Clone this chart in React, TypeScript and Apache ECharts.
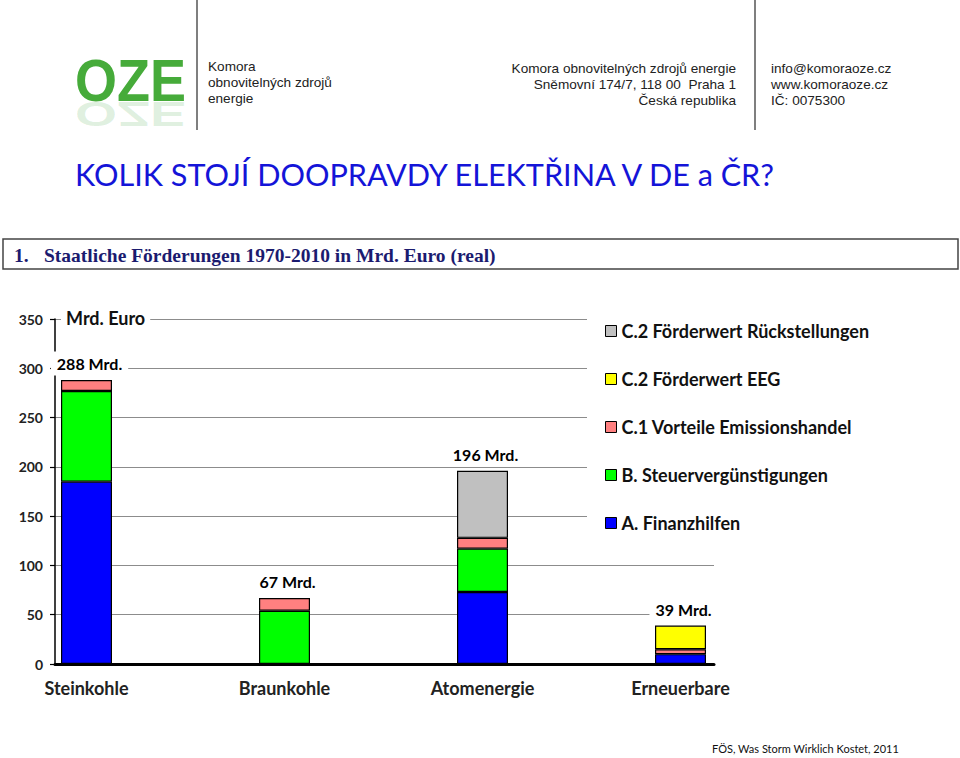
import React, { useEffect, useRef } from 'react';
import * as echarts from 'echarts';

const categories = ['Steinkohle', 'Braunkohle', 'Atomenergie', 'Erneuerbare'];
const finanzhilfen = [185, 0, 73, 10];
const steuerverguenstigungen = [92, 54, 44, 0];
const emissionshandel = [11, 13, 11, 5];
const foerderwertEEG = [0, 0, 0, 24];
const rueckstellungen = [0, 0, 68, 0];
const yTicks = { min: 0, max: 350, interval: 50 };

const seriesDefs = [
  { name: 'A. Finanzhilfen', values: finanzhilfen, color: '#0000FF' },
  { name: 'B. Steuervergünstigungen', values: steuerverguenstigungen, color: '#00FF00' },
  { name: 'C.1 Vorteile Emissionshandel', values: emissionshandel, color: '#FF8080' },
  { name: 'C.2 Förderwert EEG', values: foerderwertEEG, color: '#FFFF00' },
  { name: 'C.2 Förderwert Rückstellungen', values: rueckstellungen, color: '#C0C0C0' },
];
const totals = categories.map((_, i) => seriesDefs.reduce((s, d) => s + d.values[i], 0));

const FONT = 'Lato, "Open Sans", sans-serif';
const SANS = '"Liberation Sans", Arial, sans-serif';

function buildOption(): any {
  const series: any[] = seriesDefs.map((s) => ({
    type: 'bar',
    name: s.name,
    stack: 'total',
    xAxisIndex: 0,
    yAxisIndex: 0,
    barWidth: 51,
    data: s.values.map((v) => (v > 0 ? v : '-')),
    itemStyle: { color: s.color, borderColor: '#000', borderWidth: 1.2 },
    emphasis: { disabled: true },
  }));
  series.push({
    type: 'scatter',
    name: 'totals',
    xAxisIndex: 0,
    yAxisIndex: 0,
    data: totals.map((t, i) => [i, t]),
    symbolSize: 1,
    itemStyle: { color: 'rgba(255,255,255,0)', opacity: 1 },
    z: 5,
    label: {
      show: true,
      position: 'top',
      distance: 4,
      offset: [3, 0],
      formatter: (p: any) => `${p.value[1]} Mrd.`,
      fontFamily: FONT,
      fontWeight: 'bold',
      fontSize: 16,
      color: '#000',
      opacity: 1,
      textBorderWidth: 0,
      backgroundColor: '#fff',
      padding: [4, 6],
    },
    emphasis: { disabled: true },
  });

  return {
    animation: false,
    backgroundColor: '#fff',
    grid: [
      { left: 86.5, right: 279.5, top: 319, bottom: 94 },
      { left: 55, right: 246, top: 319, bottom: 94 },
    ],
    xAxis: [
      {
        type: 'category',
        gridIndex: 0,
        data: categories,
        boundaryGap: false,
        axisLine: { show: false },
        axisTick: { show: false },
        splitLine: { show: false },
        axisLabel: { fontFamily: FONT, fontWeight: 'bold', fontSize: 18, color: '#222', margin: 15 },
      },
      {
        type: 'value',
        gridIndex: 1,
        min: 0,
        max: 1,
        axisLine: { show: true, onZero: false, lineStyle: { color: '#000', width: 3 } },
        axisTick: { show: false },
        axisLabel: { show: false },
        splitLine: { show: false },
      },
    ],
    yAxis: [
      {
        type: 'value',
        gridIndex: 0,
        min: yTicks.min,
        max: yTicks.max,
        interval: yTicks.interval,
        show: false,
        splitLine: { show: false },
      },
      {
        type: 'value',
        gridIndex: 1,
        min: yTicks.min,
        max: yTicks.max,
        interval: yTicks.interval,
        axisLine: { show: true, onZero: false, lineStyle: { color: '#000', width: 1.5 } },
        axisTick: { show: true, length: 5, lineStyle: { color: '#000', width: 1.2 } },
        axisLabel: { fontFamily: FONT, fontWeight: 'bold', fontSize: 14, color: '#222', margin: 12 },
        splitLine: { show: true, lineStyle: { color: '#8c8c8c', width: 1.2 } },
      },
    ],
    legend: {
      data: [...seriesDefs].reverse().map((s) => s.name),
      orient: 'vertical',
      left: 587,
      top: 313,
      padding: [8, 10, 8, 18],
      backgroundColor: '#fff',
      itemWidth: 11,
      itemHeight: 11,
      itemGap: 28,
      icon: 'rect',
      itemStyle: { borderColor: '#000', borderWidth: 1 },
      textStyle: { fontFamily: FONT, fontWeight: 'bold', fontSize: 18, color: '#111', lineHeight: 20 },
      selectedMode: false,
    },
    series,
    graphic: [
      // Logo
      {
        type: 'group', x: 75, y: 80, scaleX: 0.9, z: 10,
        children: [{
          type: 'text', x: 0, y: 0,
          style: { text: 'OZE', font: `bold 60px ${SANS}`, fill: '#46ab3a', verticalAlign: 'middle', align: 'left' },
        }],
      },
      {
        type: 'group', x: 75, y: 102, scaleX: 0.9, scaleY: -0.6, z: 10,
        children: [{
          type: 'text', x: 0, y: -21,
          style: { text: 'OZE', font: `bold 60px ${SANS}`, fill: '#3aa53c', opacity: 0.16, verticalAlign: 'middle', align: 'left' },
        }],
      },
      { type: 'line', z: 10, shape: { x1: 197, y1: 0, x2: 197, y2: 130 }, style: { stroke: '#555', lineWidth: 1.5 } },
      { type: 'text', z: 10, x: 208, y: 66, style: { text: 'Komora', font: `13.6px ${SANS}`, fill: '#222', verticalAlign: 'middle' } },
      { type: 'text', z: 10, x: 208, y: 82, style: { text: 'obnovitelných zdrojů', font: `13.6px ${SANS}`, fill: '#222', verticalAlign: 'middle' } },
      { type: 'text', z: 10, x: 208, y: 98, style: { text: 'energie', font: `13.6px ${SANS}`, fill: '#222', verticalAlign: 'middle' } },
      { type: 'text', z: 10, x: 736, y: 68, style: { text: 'Komora obnovitelných zdrojů energie', font: `13.6px ${SANS}`, fill: '#222', verticalAlign: 'middle', align: 'right' } },
      { type: 'text', z: 10, x: 736, y: 84, style: { text: 'Sněmovní 174/7, 118 00  Praha 1', font: `13.6px ${SANS}`, fill: '#222', verticalAlign: 'middle', align: 'right' } },
      { type: 'text', z: 10, x: 736, y: 100, style: { text: 'Česká republika', font: `13.6px ${SANS}`, fill: '#222', verticalAlign: 'middle', align: 'right' } },
      { type: 'line', z: 10, shape: { x1: 755, y1: 0, x2: 755, y2: 130 }, style: { stroke: '#555', lineWidth: 1.5 } },
      { type: 'text', z: 10, x: 771, y: 68, style: { text: 'info@komoraoze.cz', font: `13.6px ${SANS}`, fill: '#222', verticalAlign: 'middle' } },
      { type: 'text', z: 10, x: 771, y: 84, style: { text: 'www.komoraoze.cz', font: `13.6px ${SANS}`, fill: '#222', verticalAlign: 'middle' } },
      { type: 'text', z: 10, x: 771, y: 100, style: { text: 'IČ: 0075300', font: `13.6px ${SANS}`, fill: '#222', verticalAlign: 'middle' } },
      // Title
      { type: 'text', z: 10, x: 75, y: 174, style: { text: 'KOLIK STOJÍ DOOPRAVDY ELEKTŘINA V DE a ČR?', font: `30.6px ${FONT}`, fill: '#1414d8', verticalAlign: 'middle' } },
      // Section box
      { type: 'rect', z: 10, shape: { x: 3, y: 239, width: 955, height: 30 }, style: { fill: '#fff', stroke: '#444', lineWidth: 1.5 } },
      { type: 'text', z: 11, x: 14, y: 255, style: { text: '1.', font: `bold 19.5px "Liberation Serif", serif`, fill: '#1b1b6f', verticalAlign: 'middle' } },
      { type: 'text', z: 11, x: 44, y: 255, style: { text: 'Staatliche Förderungen 1970-2010 in Mrd. Euro (real)', font: `bold 19.5px "Liberation Serif", serif`, fill: '#1b1b6f', verticalAlign: 'middle' } },
      // Unit label
      { type: 'text', z: 10, x: 61, y: 318, style: { text: 'Mrd. Euro', font: `bold 18px ${FONT}`, fill: '#111', verticalAlign: 'middle', backgroundColor: '#fff', padding: [3, 5, 3, 5] } },
      // Source
      { type: 'text', z: 10, x: 712, y: 748, style: { text: 'FÖS, Was Storm Wirklich Kostet, 2011', font: `11px ${FONT}`, fill: '#111', verticalAlign: 'middle' } },
    ],
  };
}

export default function App() {
  const ref = useRef<HTMLDivElement>(null);
  useEffect(() => {
    if (!ref.current) return;
    const chart = echarts.init(ref.current, null, { renderer: 'svg', width: 960, height: 758 });
    chart.setOption(buildOption());
    return () => chart.dispose();
  }, []);
  return (
    <div
      ref={ref}
      style={{ position: 'fixed', left: 0, top: 0, width: 960, height: 758, background: '#fff' }}
    />
  );
}
